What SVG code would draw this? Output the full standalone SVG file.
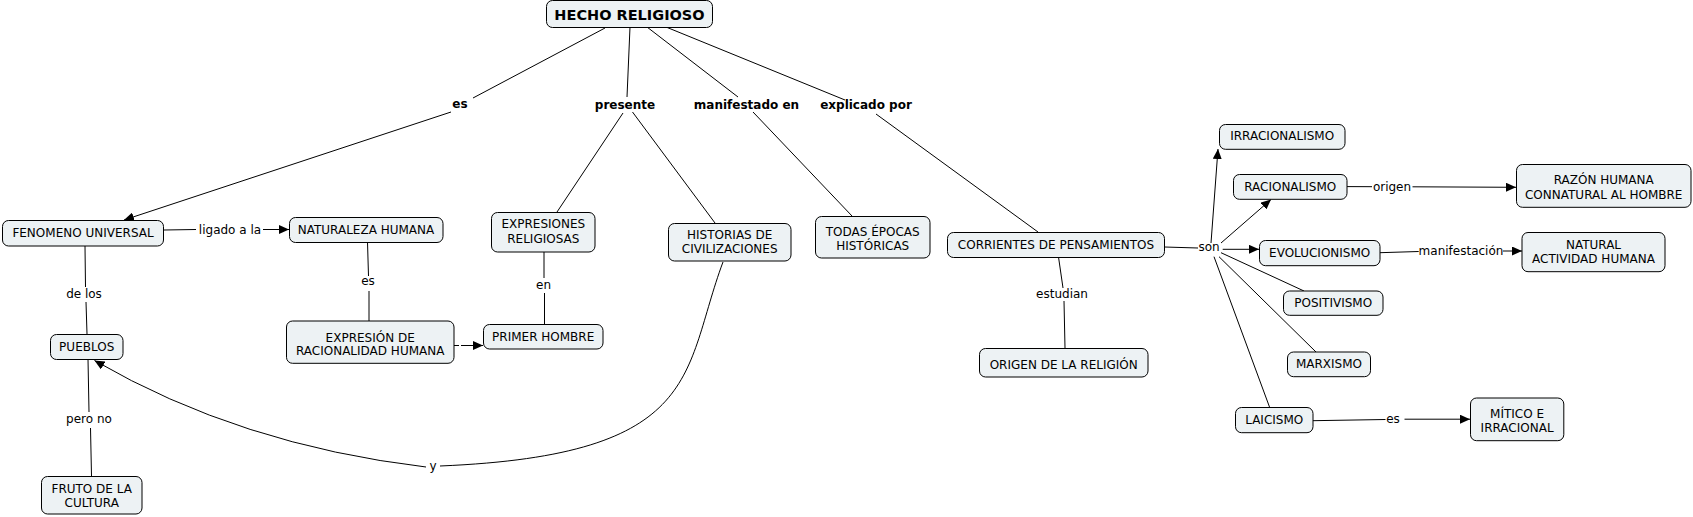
<svg xmlns="http://www.w3.org/2000/svg" width="1693" height="517" viewBox="0 0 1693 517">
<style>
.n rect{fill:#edf2f4;stroke:#000;stroke-width:1}
.n text,.l{font-family:"DejaVu Sans",Verdana,sans-serif;font-size:12px;fill:#000;text-anchor:middle}
.b{font-weight:bold}
.c path,.c line{stroke:#000;stroke-width:1;fill:none}
.a{marker-end:url(#ah)}
</style>
<defs>
<marker id="ah" markerUnits="userSpaceOnUse" markerWidth="10" markerHeight="9" refX="10" refY="4.5" orient="auto"><path d="M0,0 L10,4.5 L0,9 z" fill="#000"/></marker>
</defs>
<rect width="1693" height="517" fill="#fff"/>
<g class="c" id="connectors">
<line x1="605" y1="28" x2="473" y2="98"/>
<line class="a" x1="451" y1="112" x2="124" y2="220"/>
<line x1="630" y1="27" x2="627" y2="97"/>
<line x1="623" y1="113" x2="557" y2="212"/>
<line x1="632.5" y1="112" x2="715" y2="223"/>
<line x1="647" y1="27" x2="738" y2="97"/>
<line x1="753" y1="112" x2="852" y2="216"/>
<line x1="666" y1="27" x2="845" y2="100"/>
<line x1="876" y1="114" x2="1038" y2="232"/>
<line x1="164" y1="230" x2="196" y2="229.5"/>
<line class="a" x1="263" y1="229.5" x2="289" y2="229.5"/>
<line x1="85" y1="246" x2="85.5" y2="287"/>
<line x1="86" y1="302" x2="87" y2="334"/>
<line x1="367.5" y1="242" x2="368.5" y2="276"/>
<line x1="369" y1="291" x2="369" y2="321"/>
<line x1="544" y1="252" x2="544" y2="278"/>
<line x1="544.5" y1="293" x2="544.5" y2="324"/>
<line x1="454" y1="345.5" x2="459" y2="345.5"/>
<line class="a" x1="461" y1="345.5" x2="483" y2="345.5"/>
<line x1="88" y1="359" x2="89" y2="412"/>
<line x1="90.5" y1="428" x2="91.5" y2="476"/>
<path d="M723,262 C682,372 705,455 440,466"/>
<path class="a" d="M426,467 Q240,445 94.5,360.5"/>
<line x1="1058.5" y1="257" x2="1063" y2="288"/>
<line x1="1064" y1="301" x2="1065" y2="348"/>
<line x1="1164.5" y1="247" x2="1198" y2="248"/>
<line class="a" x1="1211" y1="243" x2="1218" y2="149"/>
<line class="a" x1="1221" y1="243" x2="1271" y2="199.5"/>
<line class="a" x1="1222.7" y1="249.3" x2="1259" y2="249.3"/>
<line x1="1221" y1="252.7" x2="1304" y2="291"/>
<line x1="1219" y1="256.7" x2="1316" y2="352"/>
<line x1="1214" y1="256.7" x2="1269.5" y2="407"/>
<line x1="1347" y1="186.6" x2="1372" y2="186.7"/>
<line class="a" x1="1412.5" y1="186.8" x2="1516" y2="187.3"/>
<line x1="1380" y1="252.7" x2="1418.7" y2="251.5"/>
<line class="a" x1="1503" y1="251" x2="1522" y2="251"/>
<line x1="1313" y1="420.7" x2="1385.5" y2="419.5"/>
<line class="a" x1="1404.5" y1="419.2" x2="1470" y2="419.2"/>
</g>
<g id="labels">
<text class="l b" x="460" y="108">es</text>
<text class="l b" x="625" y="108.5">presente</text>
<text class="l b" x="746.5" y="108.5">manifestado en</text>
<text class="l b" x="866" y="108.5">explicado por</text>
<text class="l" x="230" y="233.5">ligado a la</text>
<text class="l" x="84" y="298">de los</text>
<text class="l" x="368" y="285">es</text>
<text class="l" x="543.5" y="289">en</text>
<text class="l" x="89" y="423">pero no</text>
<text class="l" x="433" y="469.5">y</text>
<text class="l" x="1062" y="298">estudian</text>
<text class="l" x="1209" y="251">son</text>
<text class="l" x="1392" y="190.5">origen</text>
<text class="l" x="1461" y="255">manifestación</text>
<text class="l" x="1393" y="423">es</text>
</g>
<g class="n" id="n-hecho"><rect x="546.5" y="0.5" width="166" height="27" rx="6"/><text class="b" x="629.5" y="19.5" style="font-size:14.5px">HECHO RELIGIOSO</text></g>
<g class="n" id="n-fenomeno"><rect x="2.5" y="220.5" width="161" height="25.5" rx="6"/><text x="83" y="237">FENOMENO UNIVERSAL</text></g>
<g class="n" id="n-naturaleza"><rect x="289.5" y="217.5" width="153.5" height="25" rx="6"/><text x="366" y="234.4">NATURALEZA HUMANA</text></g>
<g class="n" id="n-expresiones"><rect x="491.5" y="212.5" width="103.5" height="39.5" rx="6"/><text x="543.3" y="228.4">EXPRESIONES</text><text x="543.3" y="243.4">RELIGIOSAS</text></g>
<g class="n" id="n-historias"><rect x="668.5" y="223.5" width="122.5" height="37.5" rx="6"/><text x="729.7" y="238.7">HISTORIAS DE</text><text x="729.7" y="252.7">CIVILIZACIONES</text></g>
<g class="n" id="n-todas"><rect x="815.5" y="216.5" width="114.5" height="41.5" rx="6"/><text x="872.7" y="236">TODAS ÉPOCAS</text><text x="872.7" y="250">HISTÓRICAS</text></g>
<g class="n" id="n-corrientes"><rect x="947.5" y="232.5" width="217" height="25" rx="6"/><text x="1056" y="248.7">CORRIENTES DE PENSAMIENTOS</text></g>
<g class="n" id="n-origen"><rect x="979.5" y="348.5" width="168.5" height="28.5" rx="6"/><text x="1063.7" y="368.7">ORIGEN DE LA RELIGIÓN</text></g>
<g class="n" id="n-pueblos"><rect x="50.5" y="334.5" width="72.5" height="25" rx="6"/><text x="86.7" y="351">PUEBLOS</text></g>
<g class="n" id="n-fruto"><rect x="41.5" y="476.5" width="100.5" height="37.5" rx="6"/><text x="91.7" y="492.7">FRUTO DE LA</text><text x="91.7" y="506.5">CULTURA</text></g>
<g class="n" id="n-expresion"><rect x="286.5" y="321" width="167.5" height="42.3" rx="6"/><text x="370.2" y="341.5">EXPRESIÓN DE</text><text x="370.2" y="355">RACIONALIDAD HUMANA</text></g>
<g class="n" id="n-primer"><rect x="483.5" y="324.5" width="119.5" height="24.5" rx="6"/><text x="543.2" y="341">PRIMER HOMBRE</text></g>
<g class="n" id="n-irracionalismo"><rect x="1219.5" y="124.5" width="125.5" height="24.8" rx="6"/><text x="1282.2" y="140.4">IRRACIONALISMO</text></g>
<g class="n" id="n-racionalismo"><rect x="1233.5" y="174.5" width="113.5" height="24.8" rx="6"/><text x="1290.2" y="191">RACIONALISMO</text></g>
<g class="n" id="n-razon"><rect x="1516.5" y="164.5" width="174.5" height="42.8" rx="6"/><text x="1603.7" y="184.4">RAZÓN HUMANA</text><text x="1603.7" y="199.4">CONNATURAL AL HOMBRE</text></g>
<g class="n" id="n-evolucionismo"><rect x="1259.5" y="240.5" width="120.5" height="25.2" rx="6"/><text x="1319.7" y="257">EVOLUCIONISMO</text></g>
<g class="n" id="n-natural"><rect x="1522" y="232.5" width="143" height="39.2" rx="6"/><text x="1593.5" y="248.7">NATURAL</text><text x="1593.5" y="262.7">ACTIVIDAD HUMANA</text></g>
<g class="n" id="n-positivismo"><rect x="1283.5" y="291" width="99.5" height="24.3" rx="6"/><text x="1333.2" y="306.7">POSITIVISMO</text></g>
<g class="n" id="n-marxismo"><rect x="1287.5" y="352" width="83" height="24.7" rx="6"/><text x="1329" y="367.7">MARXISMO</text></g>
<g class="n" id="n-laicismo"><rect x="1235.5" y="407.5" width="77.5" height="25.2" rx="6"/><text x="1274.2" y="423.7">LAICISMO</text></g>
<g class="n" id="n-mitico"><rect x="1470.5" y="398" width="93.3" height="42.7" rx="6"/><text x="1517.1" y="417.7">MÍTICO E</text><text x="1517.1" y="432">IRRACIONAL</text></g>
</svg>
